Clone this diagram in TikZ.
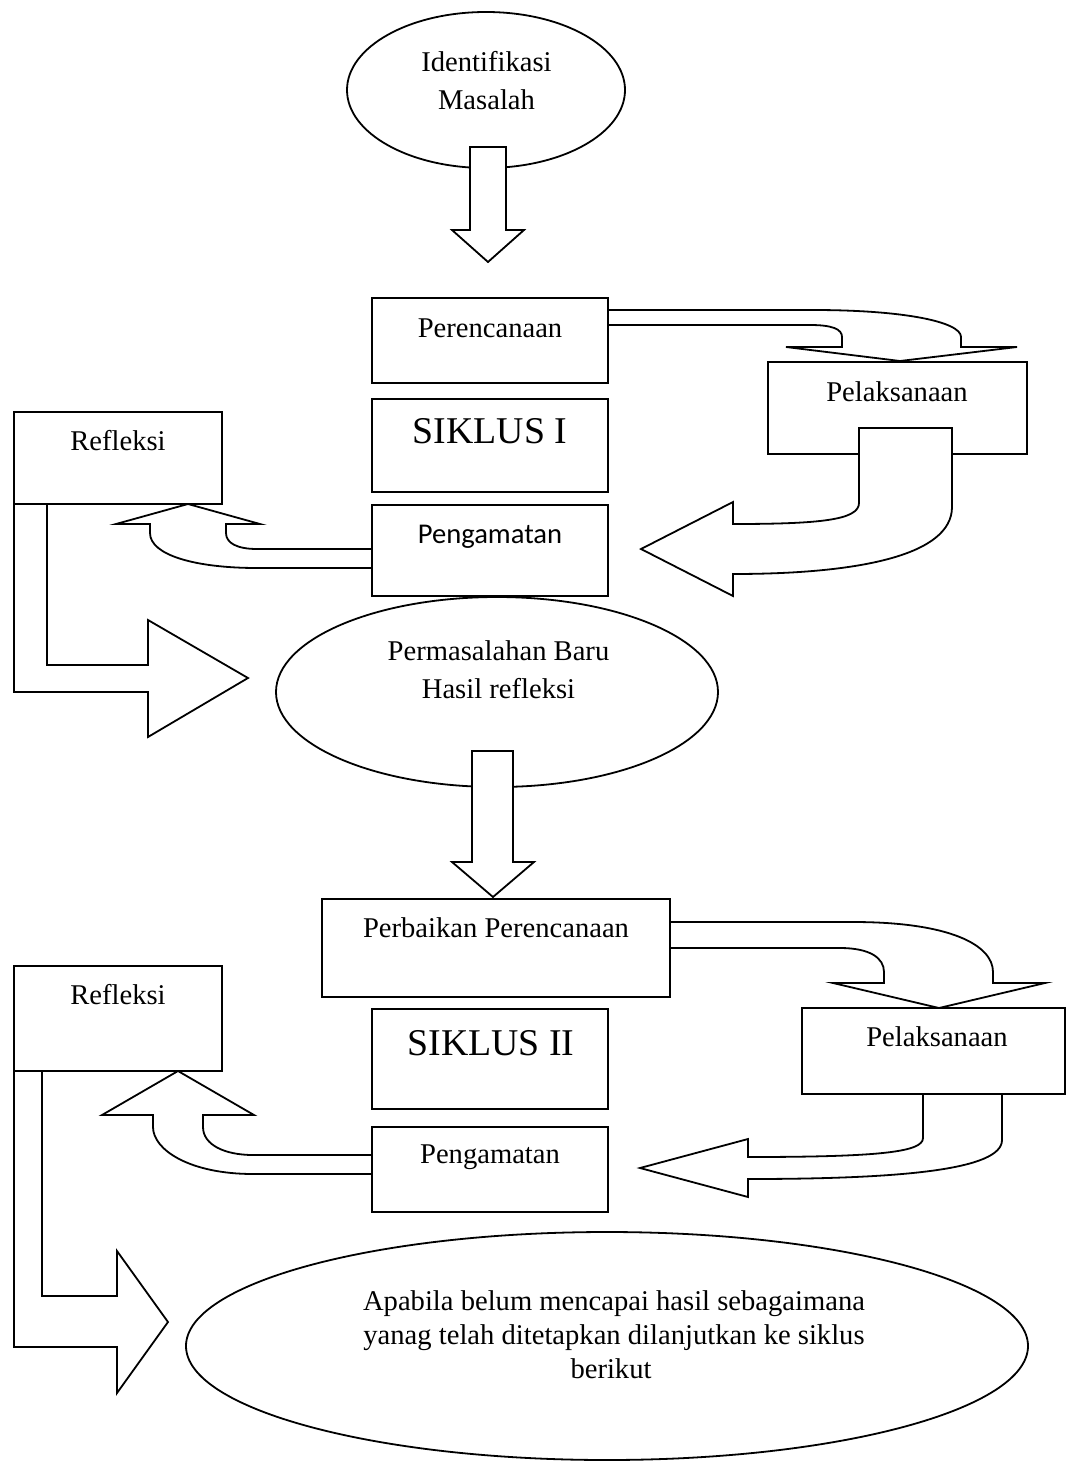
\documentclass[tikz,border=0pt]{standalone}
\usepackage{fontspec}
\setmainfont{Liberation Serif}
\newfontfamily\calibrifont{Carlito}
\usetikzlibrary{shapes.geometric}
\begin{document}
\begin{tikzpicture}[x=0.5pt,y=-0.5pt,
  box/.style={draw, line width=0.9pt, rectangle, inner sep=0pt, fill=white},
  oval/.style={draw, line width=0.9pt, ellipse, inner sep=0pt},
  blockarrow/.style={draw, line width=0.9pt, fill=white, line join=miter},
  lbl/.style={anchor=base, inner sep=0pt, font=\fontsize{14.3}{17}\selectfont},
  biglbl/.style={anchor=base, inner sep=0pt, font=\fontsize{18.9}{22}\selectfont},
  sanslbl/.style={anchor=base, inner sep=0pt, font=\calibrifont\fontsize{14.3}{17}\selectfont}]
\useasboundingbox (0,0) rectangle (1067,1461);

% ellipses
\node[oval, minimum width=139pt, minimum height=78pt] (identif) at (486,90) {};
\node[oval, minimum width=221pt, minimum height=95pt] (permasalahan) at (497,692) {};
\node[oval, minimum width=421pt, minimum height=114pt] (apabila) at (607,1346) {};

% block arrows (drawn below the boxes)
\draw[blockarrow] (470,147) -- (506,147) -- (506,230) -- (524,230) -- (488,262) -- (452,230) -- (470,230) -- cycle;

\draw[blockarrow] (608,310) -- (813,310) .. controls (905,310) and (961,322) .. (961,337) -- (961,347) -- (1017,347) -- (900,361) -- (786,347) -- (842,347) -- (842,337) .. controls (842,329) and (832,325) .. (810,325) -- (608,325);

\draw[blockarrow] (372,568) -- (257,568) .. controls (195,568) and (150,555) .. (150,533) -- (150,524) -- (116,524) -- (188,504) -- (260,524) -- (226,524) -- (226,533) .. controls (226,543) and (237,549) .. (257,549) -- (372,549);

\draw[blockarrow] (14,504) -- (14,692) -- (148,692) -- (148,737) -- (248,678) -- (148,620) -- (148,665) -- (47,665) -- (47,504);

\draw[blockarrow] (472,751) -- (513,751) -- (513,862) -- (534,862) -- (493,897) -- (452,862) -- (472,862) -- cycle;

\draw[blockarrow] (670,922) -- (853,922) .. controls (950,922) and (993,945) .. (993,972) -- (993,983) -- (1045,983) -- (939,1008) -- (833,983) -- (884,983) -- (884,972) .. controls (884,958) and (870,948) .. (840,948) -- (670,948);

\draw[blockarrow] (923,1094) -- (1002,1094) -- (1002,1140) .. controls (1002,1170) and (900,1179) .. (748,1179) -- (748,1197) -- (640,1168) -- (748,1139) -- (748,1157) .. controls (880,1157) and (923,1152) .. (923,1138) -- cycle;

\draw[blockarrow] (372,1174) -- (253,1174) .. controls (190,1174) and (153,1150) .. (153,1127) -- (153,1115) -- (102,1115) -- (178,1071) -- (254,1115) -- (203,1115) -- (203,1127) .. controls (203,1145) and (225,1155) .. (253,1155) -- (372,1155);

\draw[blockarrow] (14,1071) -- (14,1347) -- (117,1347) -- (117,1393) -- (168,1322) -- (117,1251) -- (117,1296) -- (42,1296) -- (42,1071);

% boxes cycle I
\node[box, minimum width=118pt, minimum height=42.5pt] (perenc) at (490,340.5) {};
\node[box, minimum width=118pt, minimum height=46.5pt] (siklus1) at (490,445.5) {};
\node[box, minimum width=118pt, minimum height=45.5pt] (pengam1) at (490,550.5) {};
\node[box, minimum width=104pt, minimum height=46pt] (refl1) at (118,458) {};
\node[box, minimum width=129.5pt, minimum height=46pt] (pelak1) at (897.5,408) {};

% boxes cycle II
\node[box, minimum width=174pt, minimum height=49pt] (perbaikan) at (496,948) {};
\node[box, minimum width=118pt, minimum height=50pt] (siklus2) at (490,1059) {};
\node[box, minimum width=118pt, minimum height=42.5pt] (pengam2) at (490,1169.5) {};
\node[box, minimum width=104pt, minimum height=52.5pt] (refl2) at (118,1018.5) {};
\node[box, minimum width=131.5pt, minimum height=43pt] (pelak2) at (933.5,1051) {};

% arrow that overlaps the Pelaksanaan I box
\draw[blockarrow] (859,428) -- (952,428) -- (952,507) .. controls (952,555) and (860,574) .. (733,574) -- (733,596) -- (641,549) -- (733,502) -- (733,524) .. controls (820,524) and (859,520) .. (859,503) -- cycle;

% texts
\node[lbl] (t-identif) at (486.5,72) {Identifikasi};
\node[lbl] (t-masalah) at (486.5,110) {Masalah};
\node[lbl] (t-perenc) at (490,337) {Perencanaan};
\node[biglbl] (t-siklus1) at (490,443) {SIKLUS I};
\node[sanslbl] (t-pengam1) at (490,543) {Pengamatan};
\node[lbl] (t-refl1) at (118,450) {Refleksi};
\node[lbl] (t-pelak1) at (897,401) {Pelaksanaan};
\node[lbl] (t-perm1) at (498.5,660) {Permasalahan Baru};
\node[lbl] (t-perm2) at (498.5,698) {Hasil refleksi};
\node[lbl] (t-perbaikan) at (496,937) {Perbaikan Perencanaan};
\node[biglbl] (t-siklus2) at (491,1055) {SIKLUS II};
\node[lbl] (t-pengam2) at (490,1163) {Pengamatan};
\node[lbl] (t-refl2) at (118,1004) {Refleksi};
\node[lbl] (t-pelak2) at (937,1046) {Pelaksanaan};
\node[lbl] (t-apa1) at (614,1310) {Apabila belum mencapai hasil sebagaimana};
\node[lbl] (t-apa2) at (614,1344) {yanag telah ditetapkan dilanjutkan ke siklus};
\node[lbl] (t-apa3) at (611,1378) {berikut};
\end{tikzpicture}
\end{document}
